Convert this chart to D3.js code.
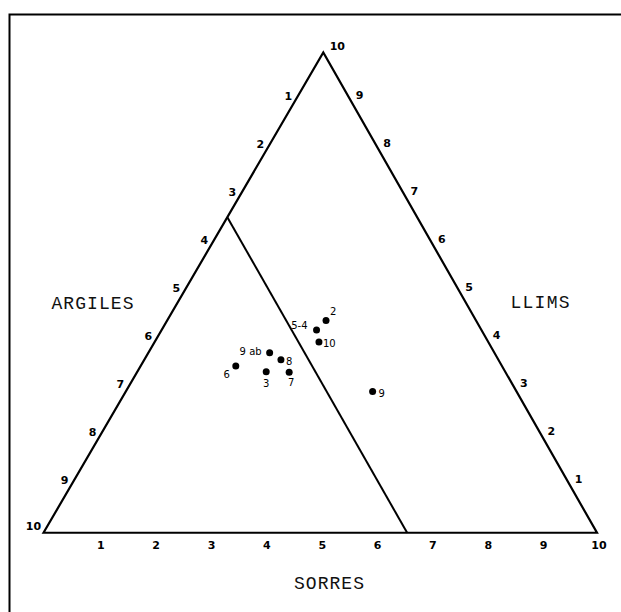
<!DOCTYPE html>
<html><head><meta charset="utf-8">
<script src="https://cdn.jsdelivr.net/npm/d3@7/dist/d3.min.js"></script>
<style>
html,body{margin:0;padding:0;background:#fff;}
svg{display:block;}
</style></head>
<body>
<svg id="c" width="621" height="612"></svg>
<script>
// ---- data (percentages: argiles, llims, sorres) ----
const sampleLabels = ["2", "5-4", "10", "9 ab", "8", "6", "3", "7", "9"];
const argiles = [27.1, 29.8, 30.6, 40.6, 39.3, 48.1, 43.2, 39.1, 26.0];
const llims   = [44.2, 42.2, 39.7, 37.5, 36.0, 34.7, 33.5, 33.4, 29.4];
const sorres  = [28.7, 28.0, 29.7, 21.9, 24.7, 17.2, 23.3, 27.5, 44.6];
const tickValues = [1, 2, 3, 4, 5, 6, 7, 8, 9, 10];
const axisTitles = ["ARGILES", "LLIMS", "SORRES"];
const dividerArgiles = 34.3;

// ---- layout ----
const W = 621, H = 612;
const apexFrac = 0.5055;
const x = d3.scaleLinear().domain([0, 1]).range([43.5, 597]);
const y = d3.scaleLinear().domain([0, 1]).range([532.75, 52.5]);
const proj = (a, l, s) => {
  const t = a + l + s;
  const L = l / t, S = s / t;
  return [x(S + L * apexFrac), y(L)];
};
// label offsets relative to each dot [dx, dy, anchor]
const labelOffsets = [[4, -5, "start"], [-9, -1, "end"], [4, 5, "start"], [-8, 2, "end"],
  [5, 5, "start"], [-9, 12, "middle"], [0, 15, "middle"], [2, 14, "middle"], [6, 5, "start"]];

const svg = d3.select("#c");
svg.append("rect").attr("width", W).attr("height", H).attr("fill", "#fff");

// frame
svg.append("path").attr("d", `M9.5,612 L9.5,14.5 L621,14.5`)
  .attr("fill", "none").attr("stroke", "#000").attr("stroke-width", 2);

const line = d3.line();
const A = proj(100, 0, 0), Lv = proj(0, 100, 0), Sv = proj(0, 0, 100);
svg.append("path").attr("d", line([A, Lv, Sv]) + "Z")
  .attr("fill", "none").attr("stroke", "#000").attr("stroke-width", 2.2).attr("stroke-linejoin", "miter");

// divider line (constant argiles)
svg.append("path")
  .attr("d", line([proj(dividerArgiles, 100 - dividerArgiles, 0), proj(dividerArgiles, 0, 100 - dividerArgiles)]))
  .attr("fill", "none").attr("stroke", "#000").attr("stroke-width", 2);

// tick labels
const tickFont = "'DejaVu Sans', sans-serif";
const tg = svg.append("g").attr("font-family", tickFont).attr("font-weight", "bold")
  .attr("font-size", 11).attr("fill", "#000").attr("text-anchor", "middle")
  .attr("dominant-baseline", "central");
// left edge: argiles k, measured from apex
tg.selectAll(".tl").data(tickValues).join("text")
  .attr("x", d => proj(d, 10 - d, 0)[0] + (d === 10 ? -10 : -7))
  .attr("y", d => proj(d, 10 - d, 0)[1] + (d === 10 ? -6 : -4))
  .text(d => d);
// right edge: llims k, measured from bottom-right
tg.selectAll(".tr").data(tickValues).join("text")
  .attr("x", d => proj(0, d, 10 - d)[0] + (d === 10 ? 14 : 9))
  .attr("y", d => proj(0, d, 10 - d)[1] + (d === 10 ? -6 : -5))
  .text(d => d);
// bottom: sorres k, measured from bottom-left
tg.selectAll(".tb").data(tickValues).join("text")
  .attr("x", d => proj(10 - d, 0, d)[0] + 2)
  .attr("y", d => proj(10 - d, 0, d)[1] + 13)
  .text(d => d);

// axis titles
const titleG = svg.append("g").attr("font-family", "'Liberation Mono', 'Courier New', monospace")
  .attr("font-size", 18).attr("fill", "#111").attr("text-anchor", "middle")
  .attr("dominant-baseline", "central");
titleG.append("text").attr("x", 92.5).attr("y", 304).attr("textLength", 82).text(axisTitles[0]);
titleG.append("text").attr("x", 540).attr("y", 303).attr("textLength", 59).text(axisTitles[1]);
titleG.append("text").attr("x", 329).attr("y", 584).attr("textLength", 70).text(axisTitles[2]);

// points
const pts = sampleLabels.map((lab, i) => ({ lab, a: argiles[i], l: llims[i], s: sorres[i], off: labelOffsets[i] }));
svg.append("g").selectAll("circle").data(pts).join("circle")
  .attr("cx", d => proj(d.a, d.l, d.s)[0])
  .attr("cy", d => proj(d.a, d.l, d.s)[1])
  .attr("r", 3.5).attr("fill", "#000");
svg.append("g").attr("font-family", "'DejaVu Sans', sans-serif").attr("font-size", 10)
  .attr("fill", "#000").selectAll("text").data(pts).join("text")
  .attr("x", d => proj(d.a, d.l, d.s)[0] + d.off[0])
  .attr("y", d => proj(d.a, d.l, d.s)[1] + d.off[1])
  .attr("text-anchor", d => d.off[2])
  .text(d => d.lab);
</script>
</body></html>
